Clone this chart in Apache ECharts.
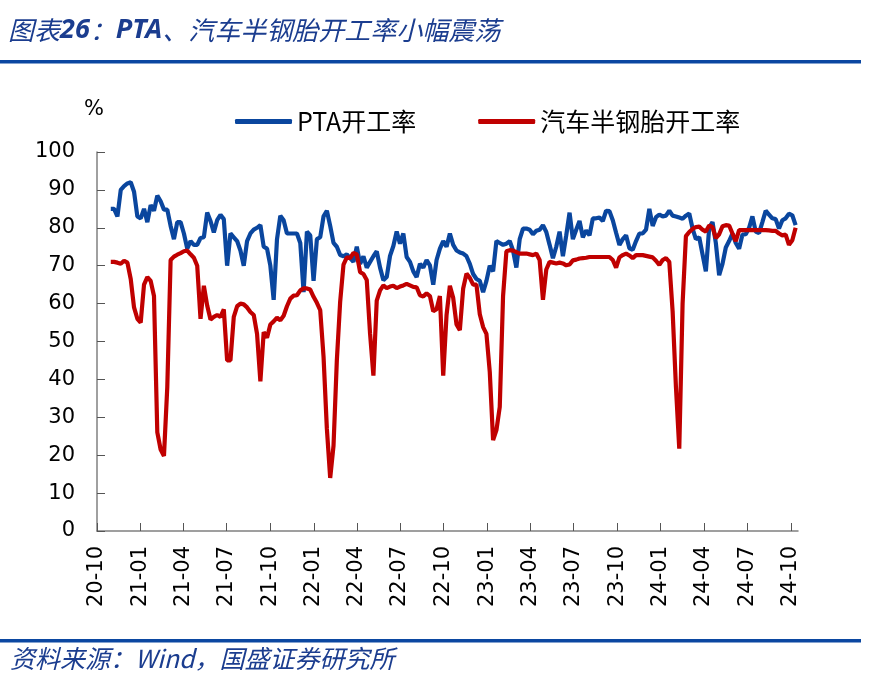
<!DOCTYPE html>
<html><head><meta charset="utf-8">
<script src="https://cdn.jsdelivr.net/npm/echarts@6/dist/echarts.min.js"></script>
<style>html,body{margin:0;padding:0;background:#fff}#c{width:882px;height:694px}</style>
</head><body><div id="c"></div>
<script>
// weekly observations, first one on 2020-10-30
const firstWeek = [2020, 9, 30];
const axisStart = [2020, 9, 1];
const axisEnd = [2024, 9, 16];
const tickLabels = ['20-10','21-01','21-04','21-07','21-10','22-01','22-04','22-07','22-10','23-01','23-04','23-07','23-10','24-01','24-04','24-07','24-10'];
const seriesNames = ['PTA开工率', '汽车半钢胎开工率'];

const ptaRate = [
85,85,83,90,91,91.7,92,89.5,83,82.5,
85,81.5,86,84.5,88.5,87,84.8,84.8,80.5,77,
81.5,81.5,78.5,74.5,76.5,75.5,75.5,77.3,77.5,84,
81.8,78.8,82,83.4,82.3,70,78.5,77.5,76.5,74,
70,76.5,78.5,79.5,80,80.7,75,74.5,70,61,
77,83.2,82,78.5,78.5,78.5,78.5,76,63,79,
78,66,77,77.5,83,84.5,80.5,76,75,72.8,
72.5,73,72,71,75,70.5,72.5,69.5,71,72.5,
73.8,69.5,66.2,67,72.6,75.2,79,75.8,78.5,72.3,
71,68.5,67,70.5,69.5,71.5,70.1,65,71.5,74.5,
76.5,75,78.5,75.5,74,73.5,73.2,72.5,70.5,67.8,
66.5,66,63,66,70,68.5,76.5,76,75.5,75.8,
76.5,74,69.5,77,79.8,79.8,79.5,78.3,79.2,79.5,
80.7,78.9,75.5,72,75,79,72.5,78,84,77,
79.5,81.8,77.5,79.3,78,82.5,82.5,82.7,81.8,84.5,
84.4,82,78.7,75.5,77,78,74.6,74.2,76.5,78.5,
78.5,79.5,85,80.5,82.8,83.5,83,83.2,84.5,83.2,
83,82.7,82.4,83.2,83.8,79.8,77,77.5,73,68.5,
80,81.5,76,67.5,70.5,74.8,76.5,78.5,76,74.5,
78.2,78.3,80,83,79,78.6,81.5,84.5,83.5,82.5,
82.3,79.8,82,82.5,83.7,83.3,80.7
];

const tireRate = [
71,71,70.8,70.5,71.3,70.8,66.5,59,56,55,
65,67,66,62,26,21.5,19.8,38,71.5,72.4,
72.9,73.3,73.8,74,73,72.1,70,56,64.7,59.5,
55.8,56.5,57,56.5,58.5,45,45,56.5,59.3,60,
59.8,59,57.8,57,52,39.5,52.5,51,54.5,55.3,
56.3,55.6,56.8,59.3,61.3,62.1,62.2,63.5,64,64,
63.7,61.8,60.2,58.3,46,27,14,22.5,45,60.5,
70.3,72.2,72,73.4,73,68.3,67.8,66.2,52,41,
60.8,63.5,64.8,64.1,64.5,64.7,64.1,64.5,64.8,65.2,
64.8,64.4,64.3,62.2,61.9,62.7,62,58,58.5,62,
41,57,64.7,61.5,54.5,53,64,67.9,66.8,65,
65,57.2,53.8,52,42,24,26.6,32.7,62,73.8,
74.1,74,73.6,73.2,73.2,73.2,73,72.8,73.2,71.5,
61,69,71,70.8,70.6,70.8,70.6,70.1,70.3,71.4,
71.6,71.9,72,72.1,72.3,72.3,72.3,72.3,72.3,72.3,
72.3,71.5,69.5,72.2,72.8,73.2,72.7,72,72.8,72.8,
72.8,72.6,72.4,72.2,71.3,70.2,71.5,72,71,58,
38,21.7,60,77.8,78.9,79.7,80.2,80.3,79.5,79,
80.6,80.2,77.3,78.3,80.4,80.7,80.6,78.5,76.5,79.4,
79.4,79.4,79.4,79.4,79.4,79.4,79.4,79.4,79.3,79.2,
79.2,78.5,78,78.2,75.5,76.7,80
];

const weekDates = ptaRate.map((_, i) => new Date(firstWeek[0], firstWeek[1], firstWeek[2] + 7 * i).getTime());
const tickValues = tickLabels.map(s => new Date(2000 + parseInt(s.slice(0, 2), 10), parseInt(s.slice(3), 10) - 1, 1).getTime());
const fmt = v => { const d = new Date(v); return String(d.getFullYear()).slice(2) + '-' + String(d.getMonth() + 1).padStart(2, '0'); };

const BLUE = '#0A469E', RED = '#C00000', RULE = '#0B47A1', TITLE = '#1B3D8F';
const chart = echarts.init(document.getElementById('c'), null, { renderer: 'canvas' });
chart.setOption({
  animation: false,
  backgroundColor: '#fff',
  grid: { left: 97, right: 84, top: 152, bottom: 163 },
  legend: {
    left: 230, top: 104, itemWidth: 57, itemHeight: 5, itemGap: 62, icon: 'roundRect',
    textStyle: { fontFamily: 'Noto Sans CJK SC', fontSize: 25, color: '#000' },
    data: seriesNames
  },
  xAxis: {
    type: 'value',
    min: new Date(axisStart[0], axisStart[1], axisStart[2]).getTime(),
    max: new Date(axisEnd[0], axisEnd[1], axisEnd[2]).getTime(),
    axisLine: { lineStyle: { color: '#808080', width: 1.5 } },
    axisTick: { show: true, inside: true, length: 8, customValues: tickValues, lineStyle: { color: '#555' } },
    axisLabel: { customValues: tickValues, formatter: fmt, rotate: 90, margin: 15, fontFamily: 'DejaVu Sans', fontSize: 21, color: '#000' },
    splitLine: { show: false }
  },
  yAxis: {
    type: 'value', min: 0, max: 100, interval: 10,
    axisLine: { show: true, lineStyle: { color: '#808080', width: 1.5 } },
    axisTick: { show: true, inside: true, length: 8, lineStyle: { color: '#555' } },
    axisLabel: { margin: 22, fontFamily: 'DejaVu Sans', fontSize: 21, color: '#000' },
    splitLine: { show: false }
  },
  series: [
    { name: seriesNames[0], type: 'line', symbol: 'none', color: BLUE, lineStyle: { width: 4.2, color: BLUE },
      data: weekDates.map((t, i) => [t, ptaRate[i]]) },
    { name: seriesNames[1], type: 'line', symbol: 'none', color: RED, lineStyle: { width: 4.2, color: RED },
      data: weekDates.map((t, i) => [t, tireRate[i]]) }
  ],
  graphic: [
    { type: 'text', left: 8, top: 17, style: {
        text: '{a|图表}{b|26}{a|：}{b|PTA}{a|、汽车半钢胎开工率小幅震荡}',
        rich: {
          a: { fontFamily: 'Noto Sans CJK SC', fontSize: 26, fontStyle: 'italic', fill: TITLE },
          b: { fontFamily: 'Noto Sans', fontSize: 27, fontStyle: 'italic', fontWeight: 'bold', fill: TITLE }
        } } },
    { type: 'rect', shape: { x: 0, y: 60, width: 861, height: 3.5 }, style: { fill: RULE } },
    { type: 'rect', shape: { x: 0, y: 639, width: 861, height: 3.5 }, style: { fill: RULE } },
    { type: 'text', left: 10, top: 646, style: {
        text: '资料来源：Wind，国盛证券研究所', fontFamily: 'Noto Sans CJK SC', fontSize: 25, fontStyle: 'italic', fill: TITLE } },
    { type: 'text', x: 94, y: 110, style: { text: '%', fontFamily: 'DejaVu Sans', fontSize: 21, fill: '#000', align: 'center', verticalAlign: 'middle' } }
  ]
});
</script></body></html>
